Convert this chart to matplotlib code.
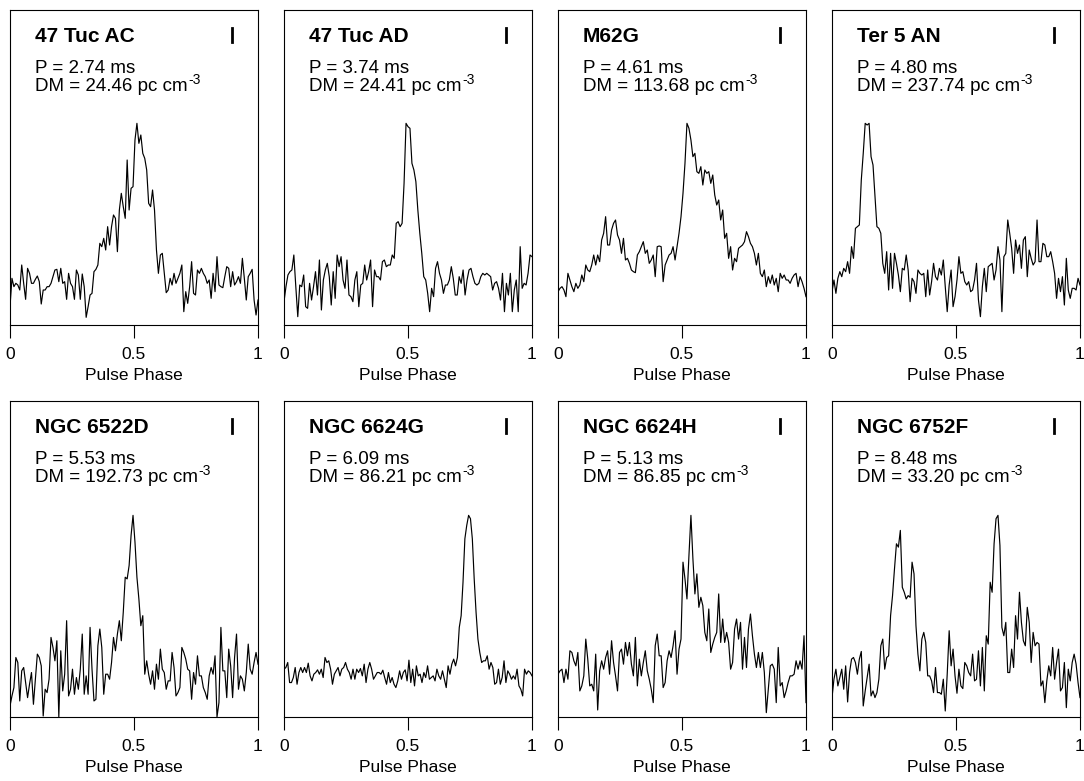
import numpy as np
import matplotlib
matplotlib.use("Agg")
from matplotlib import pyplot as plt

plt.rcParams['font.family'] = ['Liberation Sans', 'DejaVu Sans']

names = ["47 Tuc AC", "47 Tuc AD", "M62G", "Ter 5 AN",
         "NGC 6522D", "NGC 6624G", "NGC 6624H", "NGC 6752F"]
periods = ["2.74", "3.74", "4.61", "4.80", "5.53", "6.09", "5.13", "8.48"]
dms = ["24.46", "24.41", "113.68", "237.74", "192.73", "86.21", "86.85", "33.20"]

# pulse profiles, arbitrary intensity units
prof_47tuc_ac = [55,140,115,125,120,105,180,125,77,170,155,125,125,137,147,130,63,105,105,115,115,125,145,165,167,130,
                 170,125,130,77,155,125,115,77,165,150,77,153,115,23,55,90,95,160,167,180,245,235,260,225,295,240,295,
                 330,320,220,345,395,355,320,495,345,410,415,555,605,545,570,515,500,465,365,355,405,345,225,155,210,
                 215,155,97,105,140,120,155,125,140,155,180,40,100,65,115,190,95,90,165,155,170,155,145,125,135,80,155,
                 100,205,120,115,112,145,175,170,115,160,120,130,145,125,200,140,75,145,155,167,75,30,75]
prof_47tuc_ad = [70,115,150,160,165,210,115,25,120,115,150,55,50,125,75,115,160,90,195,45,135,165,185,145,60,160,80,
                 210,175,205,135,110,195,90,85,70,135,160,55,120,125,180,135,160,195,55,165,145,145,135,190,195,175,
                 180,180,210,200,305,310,295,305,425,605,595,590,485,465,430,345,275,215,145,135,95,40,110,85,170,190,
                 155,135,95,120,120,135,175,140,90,90,145,125,165,90,135,165,170,145,125,120,125,145,155,150,155,150,
                 145,105,125,130,110,75,155,40,125,90,155,40,105,135,40,235,110,125,120,155,210,205]
prof_m62g = [100,110,115,105,85,155,135,115,100,125,110,120,150,130,180,165,160,180,210,180,210,190,255,275,325,240,
             240,285,305,315,270,255,215,260,195,200,185,165,160,157,210,220,235,250,215,225,185,195,210,145,235,237,
             235,130,180,195,210,215,235,195,235,275,325,395,485,605,590,555,505,515,460,455,475,420,465,455,460,425,
             450,390,360,375,315,345,260,275,200,235,165,200,190,230,235,240,250,280,265,245,235,215,180,215,155,145,
             165,115,145,125,150,120,140,100,155,140,150,135,135,125,140,150,155,115,145,130,110,85]
prof_ter5_an = [100,135,95,140,160,145,170,160,190,155,235,200,290,295,300,435,515,605,600,605,505,480,385,295,290,
                275,185,155,220,105,215,110,215,185,150,100,170,165,210,165,70,140,130,95,165,155,150,155,85,165,90,
                130,185,145,135,170,150,195,115,40,120,165,55,85,135,205,155,160,130,120,130,100,105,135,185,75,25,115,
                170,100,175,180,185,135,165,235,195,40,205,215,315,275,230,155,255,215,240,170,255,265,145,225,200,180,
                190,315,190,190,245,240,205,205,220,190,155,80,140,100,145,60,200,105,80,110,110,105,140,120]
prof_ngc6522d = [33,63,88,178,163,48,138,148,103,58,98,133,38,113,188,178,153,3,83,73,113,238,208,168,228,0,198,78,
                 128,288,63,83,143,68,118,83,143,248,68,123,68,268,143,48,53,213,263,208,68,128,128,113,163,238,198,
                 248,288,228,313,418,413,453,543,603,523,418,353,273,303,128,168,128,98,138,83,158,113,203,143,133,83,
                 108,108,193,148,63,73,88,208,193,173,143,138,53,133,98,183,123,123,88,73,53,123,148,128,183,0,43,268,
                 138,138,58,203,153,58,178,248,83,123,113,78,133,218,143,128,163,193,158]
prof_ngc6624g = [143,148,163,103,103,118,148,98,133,148,133,148,133,161,123,108,128,133,141,128,143,118,178,163,168,
                 143,98,128,138,148,123,143,148,163,143,133,113,143,113,143,133,145,123,158,103,143,163,143,113,123,
                 133,133,128,140,118,98,133,103,118,98,88,108,138,113,133,141,108,170,103,143,93,153,123,128,103,133,
                 118,153,113,118,123,108,143,123,113,138,113,88,153,128,158,173,153,178,268,303,403,533,573,603,593,
                 533,413,313,233,193,163,168,168,183,143,163,148,98,103,143,98,118,168,103,138,128,113,123,113,143,93,
                 83,63,143,128,138,133,123]
prof_ngc6624h = [128,138,143,103,143,113,198,193,168,153,193,78,93,123,233,173,93,98,78,188,21,138,168,143,178,198,
                 128,228,163,123,78,193,203,158,223,183,223,158,123,238,93,173,123,163,198,138,113,83,43,213,248,183,
                 183,88,103,168,198,178,213,258,128,203,233,463,413,353,483,603,473,368,428,328,358,333,253,228,323,
                 193,218,238,253,368,223,293,223,253,223,143,163,263,293,233,283,143,238,148,263,308,243,188,148,193,
                 148,193,133,13,83,153,158,143,43,208,93,103,58,78,103,123,123,128,168,143,168,143,243,43]
prof_ngc6752f = [58,113,143,93,118,143,83,153,45,133,173,178,163,128,173,196,33,78,118,158,63,78,58,73,113,213,233,
                 143,178,183,303,363,443,518,508,558,388,373,353,363,358,463,428,273,188,138,233,253,223,123,123,108,
                 73,148,73,73,68,113,18,128,258,153,203,123,71,143,93,85,163,153,133,123,188,108,113,198,93,208,78,
                 243,218,403,373,518,593,603,513,268,243,283,133,133,203,148,303,233,373,283,228,213,328,283,163,253,
                 213,223,218,93,108,43,108,153,123,208,113,163,203,78,88,163,28,143,108,163,188,158,103,58]

profiles = [prof_47tuc_ac, prof_47tuc_ad, prof_m62g, prof_ter5_an,
            prof_ngc6522d, prof_ngc6624g, prof_ngc6624h, prof_ngc6752f]

W, H = 1084, 781
fig = plt.figure(figsize=(W / 100, H / 100), dpi=100)

lefts = [10, 284, 558, 832]
rows = [(10, 325), (401, 717)]
pw = 248

for i in range(8):
    r, c = divmod(i, 4)
    top, bot = rows[r]
    ax = fig.add_axes([lefts[c] / W, (H - bot) / H, pw / W, (bot - top) / H])
    p = profiles[i]
    x = np.linspace(0, 1, len(p))
    ax.plot(x, p, color='black', lw=0.85)
    ax.set_xlim(0, 1)
    ax.set_ylim(0, 945)
    ax.set_yticks([])
    ax.set_xticks([0, 0.5, 1])
    ax.set_xticklabels(['0', '0.5', '1'])
    ax.tick_params(axis='x', direction='out', length=9.5, width=0.8, pad=6, labelsize=12.5)
    ax.set_xlabel('Pulse Phase', fontsize=12.5, labelpad=5)
    for s in ax.spines.values():
        s.set_linewidth(0.8)

    ax.text(0.10, 0.90, names[i], transform=ax.transAxes, fontsize=15,
            fontweight='bold', ha='left', va='baseline')
    ax.text(0.10, 0.80, 'P = %s ms' % periods[i], transform=ax.transAxes,
            fontsize=13.5, ha='left', va='baseline')
    t = ax.text(0.10, 0.743, 'DM = %s pc cm' % dms[i], transform=ax.transAxes,
                fontsize=13.5, ha='left', va='baseline')
    ax.annotate('-3', xy=(1, 0), xycoords=t, xytext=(0.5, 8), textcoords='offset points',
                fontsize=10, ha='left', va='baseline')
    ax.plot([0.895, 0.895], [0.898, 0.943], transform=ax.transAxes, color='black', lw=2)

fig.savefig('out.png', dpi=100)
